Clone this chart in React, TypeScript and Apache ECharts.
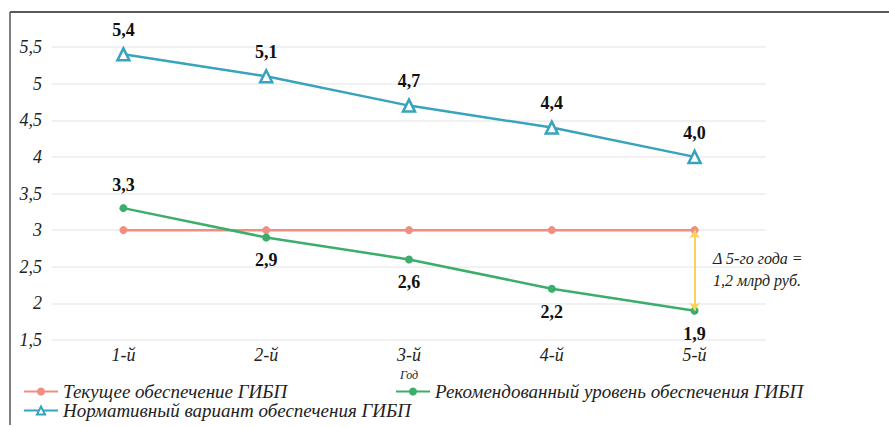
import React, { useEffect, useRef } from "react";
import * as echarts from "echarts";

const categories = ["1-й", "2-й", "3-й", "4-й", "5-й"];
const currentSupply = [3, 3, 3, 3, 3];
const normativeSupply = [5.4, 5.1, 4.7, 4.4, 4.0];
const recommendedSupply = [3.3, 2.9, 2.6, 2.2, 1.9];
const seriesNames = [
  "Текущее обеспечение ГИБП",
  "Рекомендованный уровень обеспечения ГИБП",
  "Нормативный вариант обеспечения ГИБП",
];
const deltaText = "Δ 5-го года =\n1,2 млрд руб.";
const yMin = 1.5;
const yMax = 5.5;
const yStep = 0.5;

const SERIF = "Liberation Serif";
const fmt = (v: number) => v.toFixed(1).replace(".", ",");

export default function App() {
  const ref = useRef<HTMLDivElement>(null);
  useEffect(() => {
    if (!ref.current) return;
    const chart = echarts.init(ref.current, undefined, { renderer: "svg" });
    const legendText = { fontFamily: SERIF, fontStyle: "italic", fontSize: 19, lineHeight: 17, color: "#222" };
    const legendBase = { itemWidth: 34, itemHeight: 10, textStyle: legendText, padding: 0 };
    chart.setOption({
      animation: false,
      backgroundColor: "#fff",
      textStyle: { fontFamily: SERIF },
      grid: { left: 52, right: 123, top: 47, height: 293 },
      legend: [
        { ...legendBase, data: [seriesNames[0]], left: 23, top: 382 },
        { ...legendBase, data: [seriesNames[1]], left: 395, top: 382 },
        { ...legendBase, data: [seriesNames[2]], left: 23, top: 401 },
      ],
      xAxis: {
        type: "category",
        data: categories,
        boundaryGap: true,
        axisLine: { show: false },
        axisTick: { show: false },
        axisLabel: { fontFamily: SERIF, fontStyle: "italic", fontSize: 18, color: "#222", margin: 6 },
        name: "Год",
        nameLocation: "middle",
        nameGap: 23,
        nameTextStyle: { fontFamily: SERIF, fontStyle: "italic", fontSize: 12, color: "#222" },
      },
      yAxis: {
        type: "value",
        min: yMin,
        max: yMax,
        interval: yStep,
        axisLine: { show: false },
        axisTick: { show: false },
        splitLine: { lineStyle: { color: "#ededed", width: 1.5 } },
        axisLabel: {
          fontFamily: SERIF,
          fontStyle: "italic",
          fontSize: 18,
          color: "#222",
          margin: 10,
          formatter: (v: number) => (Number.isInteger(v) ? String(v) : fmt(v)),
        },
      },
      series: [
        {
          name: seriesNames[0],
          type: "line",
          data: currentSupply,
          color: "#F28D82",
          lineStyle: { width: 2.5, color: "#F28D82" },
          symbol: "circle",
          symbolSize: 8,
          z: 2,
          markLine: {
            silent: true,
            symbol: ["arrow", "arrow"],
            symbolSize: [8, 8],
            lineStyle: { color: "#F5D35E", width: 2, type: "solid" },
            label: { show: false },
            data: [[{ coord: [4, currentSupply[4]] }, { coord: [4, recommendedSupply[4]] }]],
          },
        },
        {
          name: seriesNames[1],
          type: "line",
          data: recommendedSupply.map((v, i) =>
            i === 0 ? { value: v, label: { position: "top" } } : v
          ),
          color: "#3DAD6B",
          lineStyle: { width: 2.5, color: "#3DAD6B" },
          symbol: "circle",
          symbolSize: 8,
          z: 3,
          label: {
            show: true,
            fontFamily: SERIF,
            fontWeight: "bold",
            fontSize: 18,
            color: "#111",
            distance: 10,
            formatter: (p: any) => fmt(p.value),
            position: "bottom",
          },
        },
        {
          name: seriesNames[2],
          type: "line",
          data: normativeSupply,
          color: "#38A3BD",
          lineStyle: { width: 2.5, color: "#38A3BD" },
          symbol: "triangle",
          symbolSize: 12,
          itemStyle: { color: "#fff", borderColor: "#38A3BD", borderWidth: 2.5 },
          z: 3,
          label: {
            show: true,
            position: "top",
            fontFamily: SERIF,
            fontWeight: "bold",
            fontSize: 18,
            color: "#111",
            distance: 8,
            formatter: (p: any) => fmt(p.value),
          },
        },
      ],
      graphic: [
        { type: "line", shape: { x1: 10, y1: 12, x2: 889, y2: 12 }, style: { stroke: "#222", lineWidth: 1.5 } },
        { type: "line", shape: { x1: 10, y1: 12, x2: 10, y2: 425 }, style: { stroke: "#555", lineWidth: 1.5 } },
        {
          type: "text",
          left: 713,
          top: 247,
          style: {
            text: deltaText,
            fontFamily: SERIF,
            fontStyle: "italic",
            fontSize: 16,
            fill: "#222",
            lineHeight: 22,
          },
        },
      ],
    });
    return () => chart.dispose();
  }, []);
  return (
    <div
      ref={ref}
      style={{ position: "fixed", left: 0, top: 0, width: 889, height: 427 }}
    />
  );
}
